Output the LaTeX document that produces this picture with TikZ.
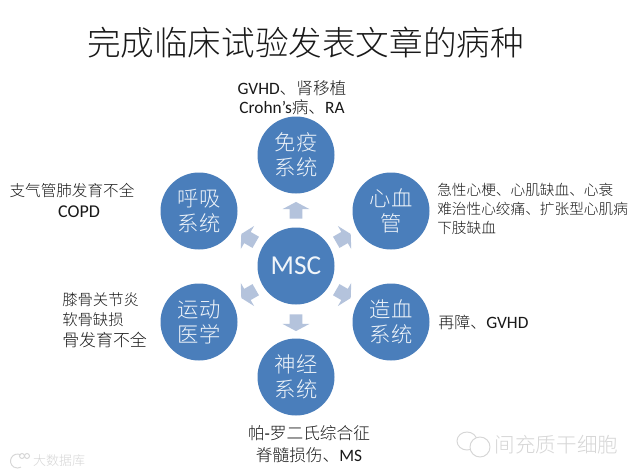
\documentclass[tikz,border=0pt]{standalone}
\usepackage{fontspec}
\usetikzlibrary{shapes.arrows}
\setmainfont{Carlito}
\newfontfamily\cjk{Noto Sans CJK SC Light}
\newcommand{\fs}[2]{\fontsize{#1}{#2}\selectfont}
\definecolor{circ}{HTML}{4A7EBB}
\definecolor{arr}{HTML}{B4C3DC}
\definecolor{wm}{HTML}{D6D6D6}
\tikzset{
  x=0.75pt,y=-0.75pt,
  bubble/.style={circle,fill=circ,minimum size=57.75pt,inner sep=0pt,text=white!92!circ,align=center},
  sat/.style={bubble,font=\cjk\fs{16}{18.6}},
  hub/.style={bubble,font=\fs{20.5}{22}},
  blockarrow/.style={single arrow,fill=arr,minimum width=20pt,minimum height=12.5pt,inner sep=4.5pt,single arrow head extend=5pt,single arrow head indent=0pt,single arrow tip angle=124},
  txt/.style={inner sep=0pt,text=black!90,font=\fs{13}{14.5}},
  wmtext/.style={inner sep=0pt,text=wm,font=\cjk\fs{15.4}{16}}
}
\begin{document}
\begin{tikzpicture}
\useasboundingbox (0,0) rectangle (640,475);
\fill[white] (0,0) rectangle (640,475);
\node[inner sep=0pt,font=\cjk\fs{25.2}{26},text=black!90] (title) at (305.5,43) {完成临床试验发表文章的病种};
\node[hub] (msc) at (296,266) {MSC};
\node[sat] (immune) at (296,155) {免疫\\系统};
\node[sat] (heart) at (391,211) {心血\\管};
\node[sat] (blood) at (391,322) {造血\\系统};
\node[sat] (nerve) at (296,377) {神经\\系统};
\node[sat] (sport) at (199,322) {运动\\医学};
\node[sat] (resp) at (199,211) {呼吸\\系统};
\node[blockarrow,rotate=90] (a1) at (296,212) {};
\node[blockarrow,rotate=30] (a2) at (342,239) {};
\node[blockarrow,rotate=-30] (a3) at (342,293) {};
\node[blockarrow,rotate=-90] (a4) at (296,321) {};
\node[blockarrow,rotate=210] (a5) at (250,293) {};
\node[blockarrow,rotate=150] (a6) at (250,239) {};
\node[txt,align=center] (t1) at (292,97.5) {GVHD{\cjk\fs{12.5}{14.5}、肾移植}\\Crohn’s{\cjk\fs{12.5}{14.5}病、}RA};
\node[txt,align=center,font=\fs{13.5}{15.5}] (t2) at (72,200.5) {{\cjk\fs{11.7}{15.5}支气管肺发育不全}\\\hspace*{10.5pt}COPD};
\node[txt,anchor=west,align=left,font=\cjk\fs{11}{14.3}] (t3) at (437,209) {急性心梗、心肌缺血、心衰\\难治性心绞痛、扩张型心肌病\\下肢缺血};
\node[txt,anchor=west] (t4) at (438,322) {{\cjk\fs{12}{14.5}再障、}GVHD};
\node[txt,anchor=west,align=left,font=\cjk\fs{11.5}{15.5}] (t5) at (62,320) {膝骨关节炎\\软骨缺损\\{\fs{12.7}{15.5}骨发育不全}};
\node[txt,align=center,font=\fs{13}{16.5}] (t6) at (309,444) {{\cjk\fs{12.5}{16.5}帕}-{\cjk\fs{12.5}{16.5}罗二氏综合征}\\{\cjk\fs{12.5}{16.5}脊髓损伤、}MS};
% watermarks
\node[wmtext] (w1) at (556.5,445) {间充质干细胞};
\draw[wm,line width=0.7pt] (467,441) ellipse [x radius=10,y radius=9];
\fill[white] (480,447) ellipse [x radius=10,y radius=10];
\draw[wm,line width=0.7pt] (480,447) ellipse [x radius=10,y radius=10];
\node[wmtext,font=\cjk\fs{9.75}{11}] (w2) at (59,461) {大数据库};
\draw[wm,line width=0.7pt] (21,455) arc (300:60:7);
\draw[wm,line width=0.7pt] (22,456) circle [radius=2.5];
\draw[wm,line width=0.7pt] (27,456) circle [radius=2.5];
\end{tikzpicture}
\end{document}
